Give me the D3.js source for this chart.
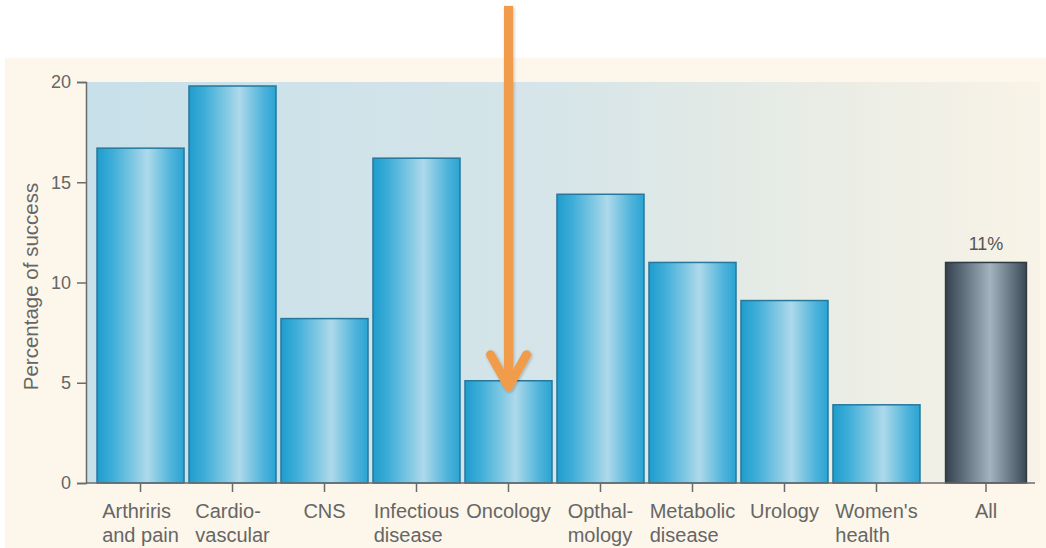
<!DOCTYPE html>
<html>
<head>
<meta charset="utf-8">
<script src="https://cdn.jsdelivr.net/npm/d3@7"></script>
<style>
  html, body { margin: 0; padding: 0; background: #fff; }
  svg { display: block; font-family: "Liberation Sans", Arial, sans-serif; }
</style>
</head>
<body>
<svg id="chart" width="1046" height="548"></svg>
<script>
// data
const categories = ['Arthriris and pain', 'Cardio- vascular', 'CNS', 'Infectious disease', 'Oncology',
    'Opthal- mology', 'Metabolic disease', 'Urology', "Women's health"];
const labelLines = [['Arthriris', 'and pain'], ['Cardio-', 'vascular'], ['CNS'], ['Infectious', 'disease'],
    ['Oncology'], ['Opthal-', 'mology'], ['Metabolic', 'disease'], ['Urology'], ["Women's", 'health']];
const successRates = [16.7, 19.8, 8.2, 16.2, 5.1, 14.4, 11.0, 9.1, 3.9];
const overallLabel = 'All';
const overallRate = 11.0;
const overallText = '11%';
const yTicks = [0, 5, 10, 15, 20];
const yTitle = 'Percentage of success';
const highlighted = 'Oncology';

const svg = d3.select('#chart');
const defs = svg.append('defs');

// gradients
const panelGrad = defs.append('linearGradient').attr('id', 'plotbg')
    .attr('x1', 0).attr('x2', 1).attr('y1', 0).attr('y2', 0);
panelGrad.append('stop').attr('offset', '0%').attr('stop-color', '#c7e0ea');
panelGrad.append('stop').attr('offset', '50%').attr('stop-color', '#d6e5e8');
panelGrad.append('stop').attr('offset', '75%').attr('stop-color', '#e8ece5');
panelGrad.append('stop').attr('offset', '100%').attr('stop-color', '#f8f3e7');

const blueGrad = defs.append('linearGradient').attr('id', 'bluebar')
    .attr('x1', 0).attr('x2', 1).attr('y1', 0).attr('y2', 0);
blueGrad.append('stop').attr('offset', '0%').attr('stop-color', '#1f9ccd');
blueGrad.append('stop').attr('offset', '18%').attr('stop-color', '#3eaed8');
blueGrad.append('stop').attr('offset', '58%').attr('stop-color', '#aed9ea');
blueGrad.append('stop').attr('offset', '85%').attr('stop-color', '#4fb4db');
blueGrad.append('stop').attr('offset', '100%').attr('stop-color', '#2aa4d3');

const greyGrad = defs.append('linearGradient').attr('id', 'greybar')
    .attr('x1', 0).attr('x2', 1).attr('y1', 0).attr('y2', 0);
greyGrad.append('stop').attr('offset', '0%').attr('stop-color', '#34424d');
greyGrad.append('stop').attr('offset', '20%').attr('stop-color', '#5a6a77');
greyGrad.append('stop').attr('offset', '55%').attr('stop-color', '#a3b3bf');
greyGrad.append('stop').attr('offset', '85%').attr('stop-color', '#5d6d79');
greyGrad.append('stop').attr('offset', '100%').attr('stop-color', '#3a4853');

const shadow = defs.append('filter').attr('id', 'shadow')
    .attr('x', '-50%').attr('y', '-5%').attr('width', '200%').attr('height', '110%');
shadow.append('feDropShadow').attr('dx', 1).attr('dy', 1).attr('stdDeviation', 1.5)
    .attr('flood-color', '#000').attr('flood-opacity', 0.25);

// cream panel
svg.append('rect')
    .attr('x', 5).attr('y', 58).attr('width', 1041).attr('height', 490)
    .attr('fill', '#fdf6ea');

// scales
const y = d3.scaleLinear().domain([0, 20]).range([483, 82]);
const x = d3.scaleBand().domain(categories).range([97, 920]).paddingInner(0.054);
const xAll = d3.scaleBand().domain([overallLabel]).range([934, 1038]).padding(0.125);

// plot background
svg.append('rect')
    .attr('x', 86).attr('y', y(20))
    .attr('width', 954).attr('height', y(0) - y(20))
    .attr('fill', 'url(#plotbg)');

// bars
svg.append('g').selectAll('rect')
    .data(successRates)
    .join('rect')
    .attr('x', (d, i) => x(categories[i]))
    .attr('y', d => y(d))
    .attr('width', x.bandwidth())
    .attr('height', d => y(0) - y(d))
    .attr('fill', 'url(#bluebar)')
    .attr('stroke', '#26789c')
    .attr('stroke-width', 1.5);

svg.append('rect')
    .attr('x', xAll(overallLabel))
    .attr('y', y(overallRate))
    .attr('width', xAll.bandwidth())
    .attr('height', y(0) - y(overallRate))
    .attr('fill', 'url(#greybar)')
    .attr('stroke', '#2f3a42')
    .attr('stroke-width', 1.5);

svg.append('text')
    .attr('x', xAll(overallLabel) + xAll.bandwidth() / 2)
    .attr('y', y(overallRate) - 12)
    .attr('text-anchor', 'middle')
    .attr('font-size', 18)
    .attr('fill', '#555')
    .text(overallText);

// y axis
const axisColor = '#6b6b6b';
const yAxis = svg.append('g')
    .attr('transform', 'translate(86,0)')
    .call(d3.axisLeft(y).tickValues(yTicks).tickSize(9).tickPadding(6));
yAxis.select('.domain').attr('stroke', axisColor).attr('stroke-width', 1.5);
yAxis.selectAll('.tick line').attr('stroke', axisColor).attr('stroke-width', 1.5);
yAxis.selectAll('.tick text')
    .attr('font-size', 18).attr('fill', '#666')
    .attr('font-family', '"Liberation Sans", Arial, sans-serif');

svg.append('text')
    .attr('transform', `translate(38,${(y(0) + y(20)) / 2 + 4}) rotate(-90)`)
    .attr('text-anchor', 'middle')
    .attr('font-size', 20.5)
    .attr('fill', '#666')
    .text(yTitle);

// x axis baseline and ticks
svg.append('line')
    .attr('x1', 86).attr('x2', 1035)
    .attr('y1', y(0)).attr('y2', y(0))
    .attr('stroke', axisColor).attr('stroke-width', 1.5);

const centres = categories.map(c => x(c) + x.bandwidth() / 2)
    .concat([xAll(overallLabel) + xAll.bandwidth() / 2]);
const allLines = labelLines.concat([[overallLabel]]);

svg.append('g').selectAll('line')
    .data(centres)
    .join('line')
    .attr('x1', d => d).attr('x2', d => d)
    .attr('y1', y(0)).attr('y2', y(0) + 9)
    .attr('stroke', axisColor).attr('stroke-width', 1.5);

const labels = svg.append('g').selectAll('g')
    .data(allLines)
    .join('g');

labels.each(function(lines, i) {
    const g = d3.select(this);
    const texts = g.selectAll('text')
        .data(lines)
        .join('text')
        .attr('y', (d, j) => 518 + j * 24)
        .attr('font-size', 20)
        .attr('fill', '#666')
        .text(d => d);
    let maxW = 0;
    texts.each(function() { maxW = Math.max(maxW, this.getComputedTextLength()); });
    texts.attr('x', centres[i] - maxW / 2);
});

// orange arrow pointing at the highlighted bar
const ax = x(highlighted) + x.bandwidth() / 2;
const tipY = y(successRates[categories.indexOf(highlighted)]) + 8;
const arrow = svg.append('g').attr('filter', 'url(#shadow)');
arrow.append('rect')
    .attr('x', ax - 4.5).attr('y', 6)
    .attr('width', 9).attr('height', tipY - 12)
    .attr('fill', '#f09c4c');
arrow.append('path')
    .attr('d', d3.line()([[ax - 18, tipY - 34], [ax, tipY - 2], [ax + 18, tipY - 34]]))
    .attr('fill', 'none')
    .attr('stroke', '#f09c4c')
    .attr('stroke-width', 9)
    .attr('stroke-linecap', 'round')
    .attr('stroke-linejoin', 'round');
</script>
</body>
</html>
